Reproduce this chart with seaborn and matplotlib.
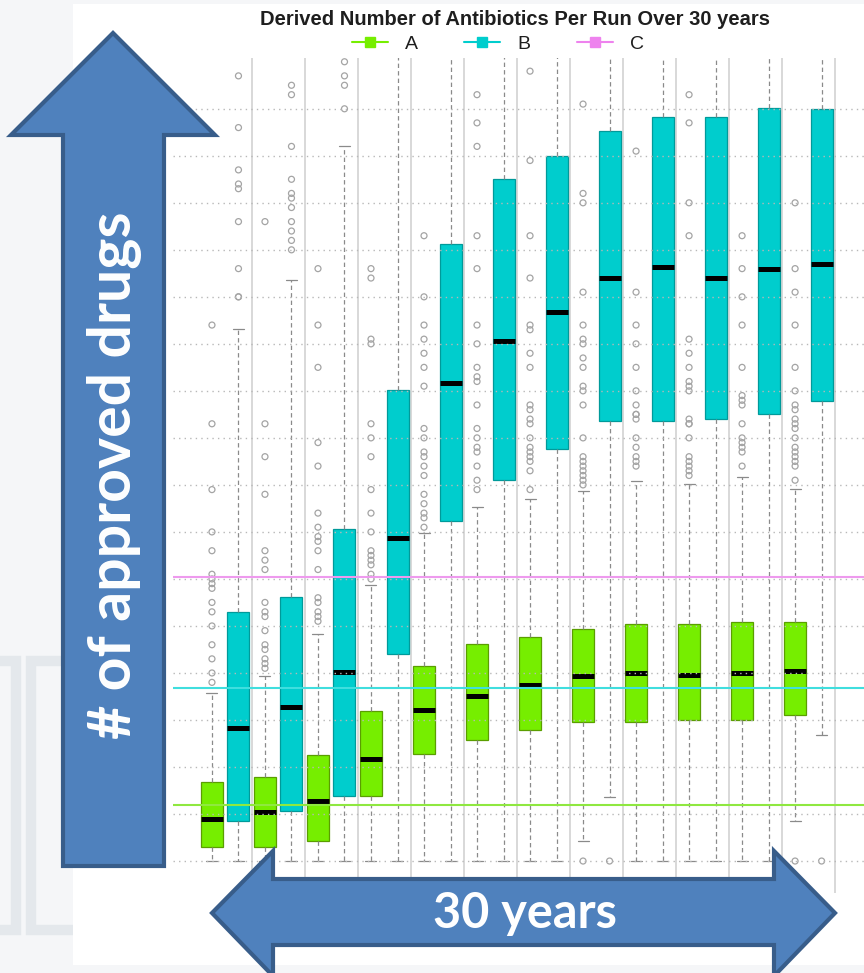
import matplotlib
matplotlib.use("Agg")
import matplotlib.pyplot as plt
from matplotlib.patches import Polygon, Rectangle
from matplotlib.lines import Line2D
import pandas as pd
import seaborn as sns

sns.set_style("white")
plt.rcParams['font.family'] = ['Liberation Sans', 'DejaVu Sans']

# ---- data (1 unit = 1 grid step) ----
years = list(range(1, 13))
runs = ["A", "B"]

a_low = [0, 0, 0, 0, 0, 0, 0, 0.43, 0, 0, 0, 0.85]
a_q1 = [0.30, 0.30, 0.43, 1.38, 2.28, 2.57, 2.79, 2.96, 2.96, 3.00, 3.00, 3.11]
a_med = [0.89, 1.04, 1.28, 2.17, 3.21, 3.51, 3.74, 3.94, 4.00, 3.96, 4.00, 4.04]
a_q3 = [1.68, 1.79, 2.26, 3.19, 4.15, 4.62, 4.77, 4.94, 5.04, 5.04, 5.09, 5.09]
a_high = [3.57, 3.94, 4.83, 5.87, 6.98, 7.53, 7.70, 7.87, 8.09, 8.02, 8.17, 7.91]

b_low = [0, 0, 0, 0, 0, 0, 0, 1.36, 0, 0, 0, 2.68]
b_q1 = [0.85, 1.06, 1.38, 4.40, 7.23, 8.11, 8.77, 9.36, 9.36, 9.40, 9.51, 9.79]
b_med = [2.83, 3.28, 4.02, 6.87, 10.17, 11.06, 11.68, 12.40, 12.64, 12.40, 12.60, 12.70]
b_q3 = [5.30, 5.62, 7.06, 10.02, 13.13, 14.51, 15.00, 15.53, 15.83, 15.83, 16.02, 16.00]
b_high = [11.32, 12.36, 15.21, 17.3, 17.3, 17.3, 17.3, 17.3, 17.3, 17.3, 17.3, 17.3]

a_fliers = [
    [11.4, 9.3, 7.9, 7.0, 6.6, 6.1, 6.0, 5.9, 5.8, 5.5, 5.3, 5.0, 4.6, 4.3, 4.0, 3.8],
    [13.6, 9.3, 8.6, 7.8, 6.6, 6.4, 6.2, 5.5, 5.3, 5.2, 4.9, 4.6, 4.5, 4.3, 4.2, 4.1],
    [12.6, 11.4, 10.5, 8.9, 8.4, 7.4, 7.1, 6.9, 6.8, 6.6, 6.2, 5.6, 5.5, 5.3, 5.2, 5.1],
    [12.6, 12.4, 11.1, 11.0, 9.3, 9.0, 8.6, 7.9, 7.4, 7.0, 6.6, 6.5, 6.4, 6.3, 6.1, 6.0],
    [13.3, 12.0, 11.4, 11.1, 10.8, 10.5, 10.1, 9.2, 9.0, 8.7, 8.6, 8.4, 8.2, 7.8, 7.6, 7.4, 7.3, 7.1],
    [16.3, 15.7, 15.2, 13.3, 12.6, 11.4, 11.0, 10.5, 10.3, 10.2, 9.7, 9.2, 9.0, 8.8, 8.7, 8.4, 8.1, 7.9],
    [16.8, 14.9, 13.3, 12.4, 11.4, 11.3, 10.8, 10.5, 9.7, 9.6, 9.4, 9.3, 9.0, 8.8, 8.7, 8.6, 8.5, 8.3, 7.9],
    [16.1, 14.2, 14.0, 12.1, 11.4, 11.1, 11.0, 10.7, 10.5, 10.1, 10.0, 9.7, 9.0, 8.6, 8.5, 8.4, 8.3, 8.2, 8.1, 8.0, 0.0],
    [15.1, 12.1, 11.4, 11.0, 10.5, 10.0, 9.7, 9.5, 9.5, 9.4, 9.0, 8.8, 8.6, 8.5, 8.4],
    [16.3, 15.7, 14.0, 13.3, 11.1, 10.8, 10.5, 10.2, 10.1, 10.0, 9.4, 9.3, 9.3, 9.0, 8.6, 8.5, 8.4, 8.3, 8.2],
    [13.3, 12.6, 12.0, 11.4, 10.5, 9.9, 9.8, 9.7, 9.3, 9.0, 8.9, 8.8, 8.7, 8.4],
    [14.0, 12.6, 12.1, 11.4, 10.5, 10.0, 9.7, 9.6, 9.4, 9.3, 9.2, 9.0, 8.8, 8.7, 8.6, 8.5, 8.4, 8.1, 0.0],
]
b_fliers = [
    [16.7, 15.6, 14.7, 14.4, 14.3, 13.6, 12.6, 12.0, 12.0],
    [16.5, 16.3, 15.2, 14.5, 14.2, 14.1, 13.9, 13.6, 13.4, 13.2, 13.0],
    [17.0, 16.7, 16.5, 16.0],
    [], [], [], [], [0.0], [], [], [], [0.0],
]

# horizontal reference levels for A, B, C
ref_levels = {"A": 1.19, "B": 3.68, "C": 6.04}

title = "Derived Number of Antibiotics Per Run Over 30 years"

box_fill = {"A": "#76EE00", "B": "#00CDCD"}
box_edge = {"A": "#5a9e00", "B": "#009a9a"}
ref_colors = {"A": "#8fe840", "B": "#40dede", "C": "#ee9aee"}
legend_colors = {"A": "#76EE00", "B": "#00CDCD", "C": "#EE82EE"}

# long tables for seaborn
slots = [f"{r}{y}" for y in years for r in runs]
stats = {"A": (a_low, a_q1, a_med, a_q3, a_high), "B": (b_low, b_q1, b_med, b_q3, b_high)}
fliers = {"A": a_fliers, "B": b_fliers}
box_rows, flier_rows = [], []
for i, y in enumerate(years):
    for r in runs:
        for col in stats[r]:
            box_rows.append((f"{r}{y}", r, col[i]))
        for v in fliers[r][i]:
            flier_rows.append((f"{r}{y}", r, v))
box_df = pd.DataFrame(box_rows, columns=["slot", "run", "value"])
flier_df = pd.DataFrame(flier_rows, columns=["slot", "run", "value"])

W, H = 864, 973
fig = plt.figure(figsize=(W / 100, H / 100), dpi=100, facecolor="#f5f6f8")


def fpt(x, y):
    return (x / W, 1 - y / H)


# slide background bits
fig.add_artist(Rectangle((-20 / W, 1 - 930 / H), 36 / W, 269 / H, transform=fig.transFigure,
                         fill=False, ec="#e4e8ec", lw=7.5, zorder=-3))
fig.add_artist(Rectangle((31 / W, 1 - 930 / H), 80 / W, 269 / H, transform=fig.transFigure,
                         fill=False, ec="#e4e8ec", lw=7.5, zorder=-3))
fig.add_artist(Rectangle(fpt(73, 965), (W - 73) / W, 961 / H, transform=fig.transFigure,
                         fc="white", ec="none", zorder=-2))

ax = fig.add_axes([173 / W, 1 - 893 / H, 691 / W, 835 / H])
ax.patch.set_visible(False)

sns.boxplot(data=box_df, x="slot", y="value", hue="run", order=slots, hue_order=runs,
            palette=box_fill, dodge=False, width=0.83, whis=(0, 100), showfliers=False,
            saturation=1, linecolor="#8a8a8a", linewidth=0.9, legend=False, ax=ax,
            medianprops=dict(color="black", linewidth=3.6, solid_capstyle="butt"),
            whiskerprops=dict(color="#8a8a8a", linestyle=(0, (3.5, 2.5)), linewidth=0.9),
            capprops=dict(color="#8a8a8a", linewidth=0.9))

for p in ax.patches:
    fc = p.get_facecolor()
    p.set_edgecolor(box_edge["A"] if fc[0] > 0.3 else box_edge["B"])

n_before = len(ax.collections)
sns.stripplot(data=flier_df, x="slot", y="value", order=slots, jitter=False,
              color="#a8a8a8", size=4.3, ax=ax, zorder=2)
for pts in ax.collections[n_before:]:
    pts.set_facecolor("none")
    pts.set_edgecolor("#a4a4a4")
    pts.set_linewidth(0.9)

# year separators
for k in range(1, len(years) + 1):
    ax.axvline(2 * k - 0.5, color="#d6d6d6", lw=1.3, zorder=0.5)

for r, lvl in ref_levels.items():
    ax.axhline(lvl, color=ref_colors[r], lw=1.5, zorder=3)

ax.set_yticks(range(0, 17))
ax.yaxis.grid(True, linestyle=(0, (1, 3)), color="#b8b8b8", lw=1)
ax.xaxis.grid(False)
ax.set_axisbelow(False)
ax.set_xlim(-1.47, 24.6)
ax.set_ylim(-0.68, 17.08)
ax.set_xlabel("")
ax.set_ylabel("")
ax.set_xticklabels([])
ax.set_yticklabels([])
ax.tick_params(length=0)
sns.despine(ax=ax, left=True, bottom=True)

fig.text(515 / W, 1 - 19.5 / H, title, ha="center", va="center", fontsize=14.5,
         fontweight="bold", color="#1e1e1e")
handles = [Line2D([], [], color=legend_colors[k], marker="s", markersize=7, lw=1.5)
           for k in ["A", "B", "C"]]
fig.legend(handles, ["A", "B", "C"], loc="center", bbox_to_anchor=fpt(498, 44), ncol=3,
           frameon=False, fontsize=14, handlelength=1.85, handletextpad=0.88,
           columnspacing=2.4, labelcolor="#1e1e1e")

# slide arrows
arrow_fc, arrow_ec = "#4f81bd", "#385d8a"
up = [(113, 33), (215, 135), (164, 135), (164, 866), (63, 866), (63, 135), (11, 135)]
fig.add_artist(Polygon([fpt(*p) for p in up], closed=True, transform=fig.transFigure,
                       fc=arrow_fc, ec=arrow_ec, lw=3, zorder=5, joinstyle="miter"))
both = [(212, 913), (273, 851), (273, 879), (774, 879), (774, 851), (835, 913),
        (774, 976), (774, 945), (273, 945), (273, 976)]
fig.add_artist(Polygon([fpt(*p) for p in both], closed=True, transform=fig.transFigure,
                       fc=arrow_fc, ec=arrow_ec, lw=3, zorder=5, joinstyle="miter"))

fig.text(115 / W, 1 - 475 / H, "# of approved drugs", rotation=90, ha="center", va="center",
         fontsize=42.5, fontweight="bold", color="white", family=["Lato", "DejaVu Sans"], zorder=6)
fig.text(525 / W, 1 - 913 / H, "30 years", ha="center", va="center",
         fontsize=35, fontweight="bold", color="white", family=["Lato", "DejaVu Sans"], zorder=6)

fig.savefig("out.png", dpi=100, facecolor=fig.get_facecolor())
